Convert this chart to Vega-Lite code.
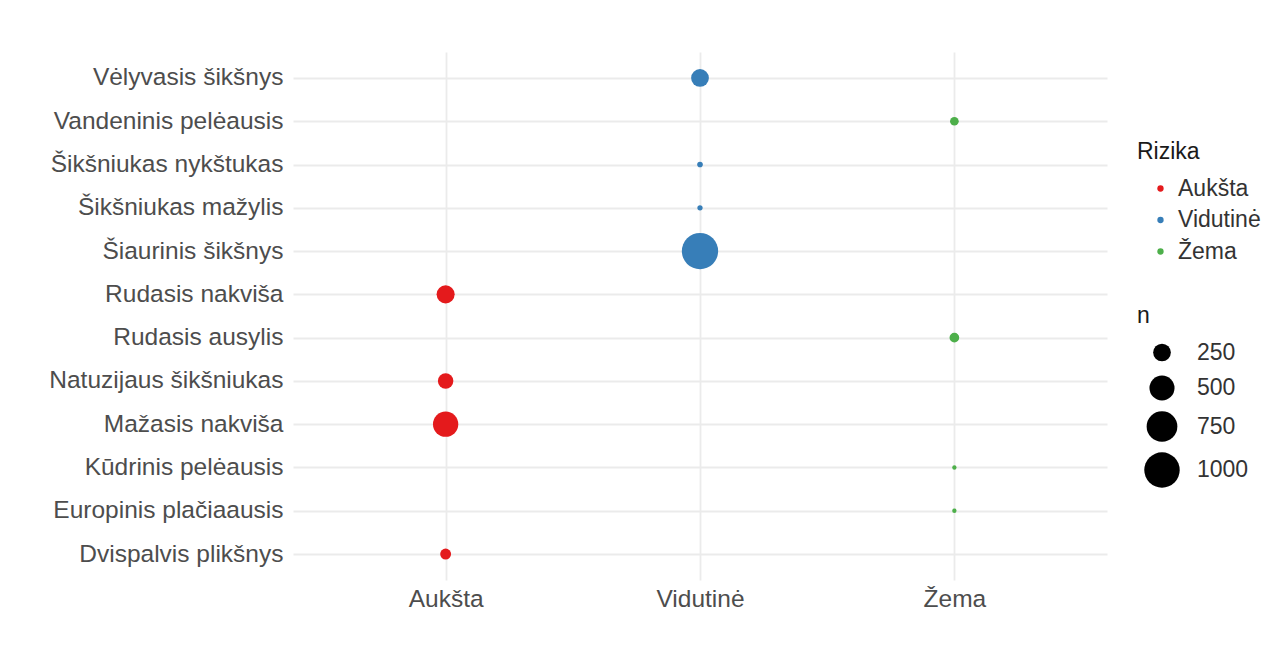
{
  "$schema": "https://vega.github.io/schema/vega-lite/v6.json",
  "autosize": {"type": "none"},
  "padding": {"left": 293, "top": 52, "right": 172, "bottom": 65},
  "width": 814,
  "height": 528,
  "background": "white",
  "data": {
    "values": [
      {"rusis": "Vėlyvasis šikšnys", "Rizika": "Vidutinė", "n": 250},
      {"rusis": "Vandeninis pelėausis", "Rizika": "Žema", "n": 60},
      {"rusis": "Šikšniukas nykštukas", "Rizika": "Vidutinė", "n": 25},
      {"rusis": "Šikšniukas mažylis", "Rizika": "Vidutinė", "n": 22},
      {"rusis": "Šiaurinis šikšnys", "Rizika": "Vidutinė", "n": 1050},
      {"rusis": "Rudasis nakviša", "Rizika": "Aukšta", "n": 260},
      {"rusis": "Rudasis ausylis", "Rizika": "Žema", "n": 75},
      {"rusis": "Natuzijaus šikšniukas", "Rizika": "Aukšta", "n": 190},
      {"rusis": "Mažasis nakviša", "Rizika": "Aukšta", "n": 510},
      {"rusis": "Kūdrinis pelėausis", "Rizika": "Žema", "n": 15},
      {"rusis": "Europinis plačiaausis", "Rizika": "Žema", "n": 15},
      {"rusis": "Dvispalvis plikšnys", "Rizika": "Aukšta", "n": 94}
    ]
  },
  "mark": {"type": "circle", "opacity": 1},
  "encoding": {
    "x": {
      "field": "Rizika", "type": "nominal",
      "scale": {"type": "point", "padding": 0.6, "domain": ["Aukšta", "Vidutinė", "Žema"]},
      "axis": {"title": null, "labelAngle": 0, "domain": false, "ticks": false, "labelPadding": 7,
               "grid": true, "gridColor": "#ebebeb", "gridWidth": 1.8, "labelLimit": 0,
               "labelFont": "Liberation Sans", "labelFontSize": 24.5, "labelColor": "#4d4d4d"}
    },
    "y": {
      "field": "rusis", "type": "nominal",
      "scale": {"type": "point", "padding": 0.6},
      "sort": ["Vėlyvasis šikšnys", "Vandeninis pelėausis", "Šikšniukas nykštukas", "Šikšniukas mažylis", "Šiaurinis šikšnys", "Rudasis nakviša", "Rudasis ausylis", "Natuzijaus šikšniukas", "Mažasis nakviša", "Kūdrinis pelėausis", "Europinis plačiaausis", "Dvispalvis plikšnys"],
      "axis": {"title": null, "domain": false, "ticks": false, "labelPadding": 10,
               "grid": true, "gridColor": "#ebebeb", "gridWidth": 1.8, "labelLimit": 0,
               "labelFont": "Liberation Sans", "labelFontSize": 24.5, "labelColor": "#4d4d4d"}
    },
    "color": {
      "field": "Rizika", "type": "nominal",
      "scale": {"domain": ["Aukšta", "Vidutinė", "Žema"], "range": ["#E41A1C", "#377EB8", "#4DAF4A"]},
      "legend": {"orient": "none", "legendX": 844, "legendY": 89, "title": "Rizika",
                 "symbolType": "circle", "symbolSize": 40, "symbolOffset": 12, "labelOffset": 6,
                 "rowPadding": 7.5, "titlePadding": 13, "padding": 0}
    },
    "size": {
      "field": "n", "type": "quantitative",
      "scale": {"domain": [0, 1100], "range": [0, 1382]},
      "legend": {"orient": "none", "legendX": 844, "legendY": 253, "title": "n", "format": "d",
                 "values": [250, 500, 750, 1000], "symbolType": "circle",
                 "symbolFillColor": "black", "symbolStrokeColor": "black", "symbolStrokeWidth": 0, "symbolOpacity": 1,
                 "symbolOffset": 7, "labelOffset": 17, "rowPadding": 10, "titlePadding": 13, "padding": 0}
    }
  },
  "config": {
    "view": {"stroke": null},
    "font": "Liberation Sans",
    "legend": {
      "titleFont": "Liberation Sans", "titleFontSize": 23, "titleFontWeight": "normal", "titleColor": "#1a1a1a",
      "labelFont": "Liberation Sans", "labelFontSize": 23, "labelColor": "#333333"
    }
  }
}
